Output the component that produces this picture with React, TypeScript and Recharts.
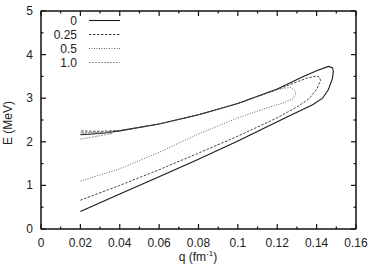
import React from 'react';
import { LineChart, Line, XAxis, YAxis } from 'recharts';

// closed loops: lower branch out to the tip, upper branch back to q = 0.02
const Q_0 = [0.02, 0.04, 0.06, 0.08, 0.1, 0.12, 0.13, 0.138, 0.143, 0.146, 0.148, 0.1485, 0.148, 0.146, 0.14, 0.133, 0.12, 0.1, 0.08, 0.06, 0.04, 0.03, 0.02];
const E_0 = [0.4, 0.8, 1.2, 1.6, 2.02, 2.46, 2.68, 2.85, 3.0, 3.2, 3.45, 3.62, 3.7, 3.73, 3.63, 3.49, 3.21, 2.88, 2.62, 2.41, 2.25, 2.19, 2.16];

const Q_025 = [0.02, 0.04, 0.06, 0.08, 0.1, 0.12, 0.13, 0.136, 0.14, 0.142, 0.1415, 0.14, 0.135, 0.12, 0.1, 0.08, 0.06, 0.04, 0.03, 0.02];
const E_025 = [0.66, 1.0, 1.36, 1.74, 2.13, 2.55, 2.8, 2.98, 3.2, 3.4, 3.48, 3.51, 3.46, 3.2, 2.88, 2.62, 2.41, 2.26, 2.24, 2.25];

const Q_05 = [0.02, 0.04, 0.06, 0.08, 0.1, 0.115, 0.123, 0.128, 0.1295, 0.129, 0.1265, 0.12, 0.1, 0.08, 0.06, 0.04, 0.03, 0.02];
const E_05 = [1.1, 1.38, 1.76, 2.18, 2.55, 2.78, 2.89, 2.99, 3.1, 3.18, 3.25, 3.2, 2.88, 2.62, 2.41, 2.25, 2.21, 2.21];

const Q_10 = [0.02, 0.025, 0.03, 0.036, 0.033, 0.027, 0.02];
const E_10 = [2.06, 2.1, 2.14, 2.19, 2.21, 2.21, 2.2];

const X_TICKS = [0, 0.01, 0.02, 0.03, 0.04, 0.05, 0.06, 0.07, 0.08, 0.09, 0.1, 0.11, 0.12, 0.13, 0.14, 0.15, 0.16];
const Y_TICKS = [0, 0.5, 1, 1.5, 2, 2.5, 3, 3.5, 4, 4.5, 5];

const zip = (q: number[], e: number[]) => q.map((v, i) => ({ q: v, E: e[i] }));

// top/right axes share the same domains, so series can sit on either pair
const SERIES = [
  { name: '0', data: zip(Q_0, E_0), stroke: '#1a1a1a', dash: undefined, width: 1.1, xa: 'b', ya: 'l' },
  { name: '0.25', data: zip(Q_025, E_025), stroke: '#333', dash: '2.5 1.5', width: 0.9, xa: 'b', ya: 'l' },
  { name: '0.5', data: zip(Q_05, E_05), stroke: '#555', dash: '1 1.5', width: 0.9, xa: 't', ya: 'r' },
  { name: '1.0', data: zip(Q_10, E_10), stroke: '#888', dash: '2 1', width: 0.9, xa: 't', ya: 'r' },
];

const FONT = '"Liberation Sans", Arial, sans-serif';
const TXT = '#222';
const GAP = 2; // recharts' default tickMargin, undone below

const isMajor = (v: number, step: number) => Math.abs(v / step - Math.round(v / step)) < 1e-6;

const makeTick = (side: string) => (props: any) => {
  const { payload } = props;
  let x = props.x as number;
  let y = props.y as number;
  if (side === 'bottom') y -= GAP;
  if (side === 'top') y += GAP;
  if (side === 'left') x += GAP;
  if (side === 'right') x -= GAP;
  const v = payload.value as number;
  const major = side === 'bottom' || side === 'top' ? isMajor(v, 0.02) : isMajor(v, 1);
  const len = major ? 5 : 2.5;
  let x2 = x;
  let y2 = y;
  if (side === 'bottom') y2 = y - len;
  if (side === 'top') y2 = y + len;
  if (side === 'left') x2 = x + len;
  if (side === 'right') x2 = x - len;
  return (
    <g>
      <path d={`M${x},${y}L${x2},${y2}`} stroke="#111" strokeWidth={1.2} />
      {major && side === 'bottom' ? (
        <text x={x} y={y + 18} textAnchor="middle" fontSize={12} fontFamily={FONT} fill={TXT}>
          {String(v)}
        </text>
      ) : null}
      {major && side === 'left' ? (
        <text x={x - 8} y={y + 4} textAnchor="end" fontSize={12} fontFamily={FONT} fill={TXT}>
          {String(v)}
        </text>
      ) : null}
    </g>
  );
};

function Overlay() {
  return (
    <svg width={371} height={270} style={{ position: 'absolute', left: 0, top: 0, pointerEvents: 'none' }}>
      <rect x={41} y={11} width={315} height={218} fill="none" stroke="#111" strokeWidth={1} />
      {SERIES.map((s, i) => (
        <g key={s.name}>
          <text x={77} y={24.5 + i * 14} textAnchor="end" fontSize={12} fontFamily={FONT} fill={TXT}>
            {s.name}
          </text>
          <line x1={89} x2={120} y1={20.5 + i * 14} y2={20.5 + i * 14} stroke={s.stroke} strokeWidth={s.width} strokeDasharray={s.dash} />
        </g>
      ))}
      <text x={198} y={261} textAnchor="middle" fontSize={12} fontFamily={FONT} fill={TXT}>
        q (fm
        <tspan fontSize={8} dy={-5}>-1</tspan>
        <tspan dy={5}>)</tspan>
      </text>
      <text x={12} y={123} transform="rotate(-90 12 123)" textAnchor="middle" fontSize={12} fontFamily={FONT} fill={TXT}>
        E (MeV)
      </text>
    </svg>
  );
}

export default function App() {
  return (
    <div style={{ position: 'absolute', left: 0, top: 0, width: 371, height: 270, background: '#fff' }}>
      <LineChart width={371} height={270} margin={{ top: 10, right: 14, bottom: 0, left: 0 }}>
        <XAxis xAxisId="b" dataKey="q" type="number" domain={[0, 0.16]} ticks={X_TICKS} interval={0} height={41} tickSize={0} tickLine={false} tick={makeTick('bottom')} axisLine={{ stroke: '#111' }} allowDataOverflow />
        <XAxis xAxisId="t" orientation="top" dataKey="q" type="number" domain={[0, 0.16]} ticks={X_TICKS} interval={0} height={1} tickSize={0} tickLine={false} tick={makeTick('top')} axisLine={{ stroke: '#111' }} allowDataOverflow />
        <YAxis yAxisId="l" type="number" domain={[0, 5]} ticks={Y_TICKS} interval={0} width={41} tickSize={0} tickLine={false} tick={makeTick('left')} axisLine={{ stroke: '#111' }} allowDataOverflow />
        <YAxis yAxisId="r" orientation="right" type="number" domain={[0, 5]} ticks={Y_TICKS} interval={0} width={1} tickSize={0} tickLine={false} tick={makeTick('right')} axisLine={{ stroke: '#111' }} allowDataOverflow />
        {SERIES.map((s) => (
          <Line
            key={s.name}
            xAxisId={s.xa}
            yAxisId={s.ya}
            data={s.data}
            dataKey="E"
            stroke={s.stroke}
            strokeWidth={s.width}
            strokeDasharray={s.dash}
            dot={false}
            isAnimationActive={false}
          />
        ))}
      </LineChart>
      <Overlay />
    </div>
  );
}
